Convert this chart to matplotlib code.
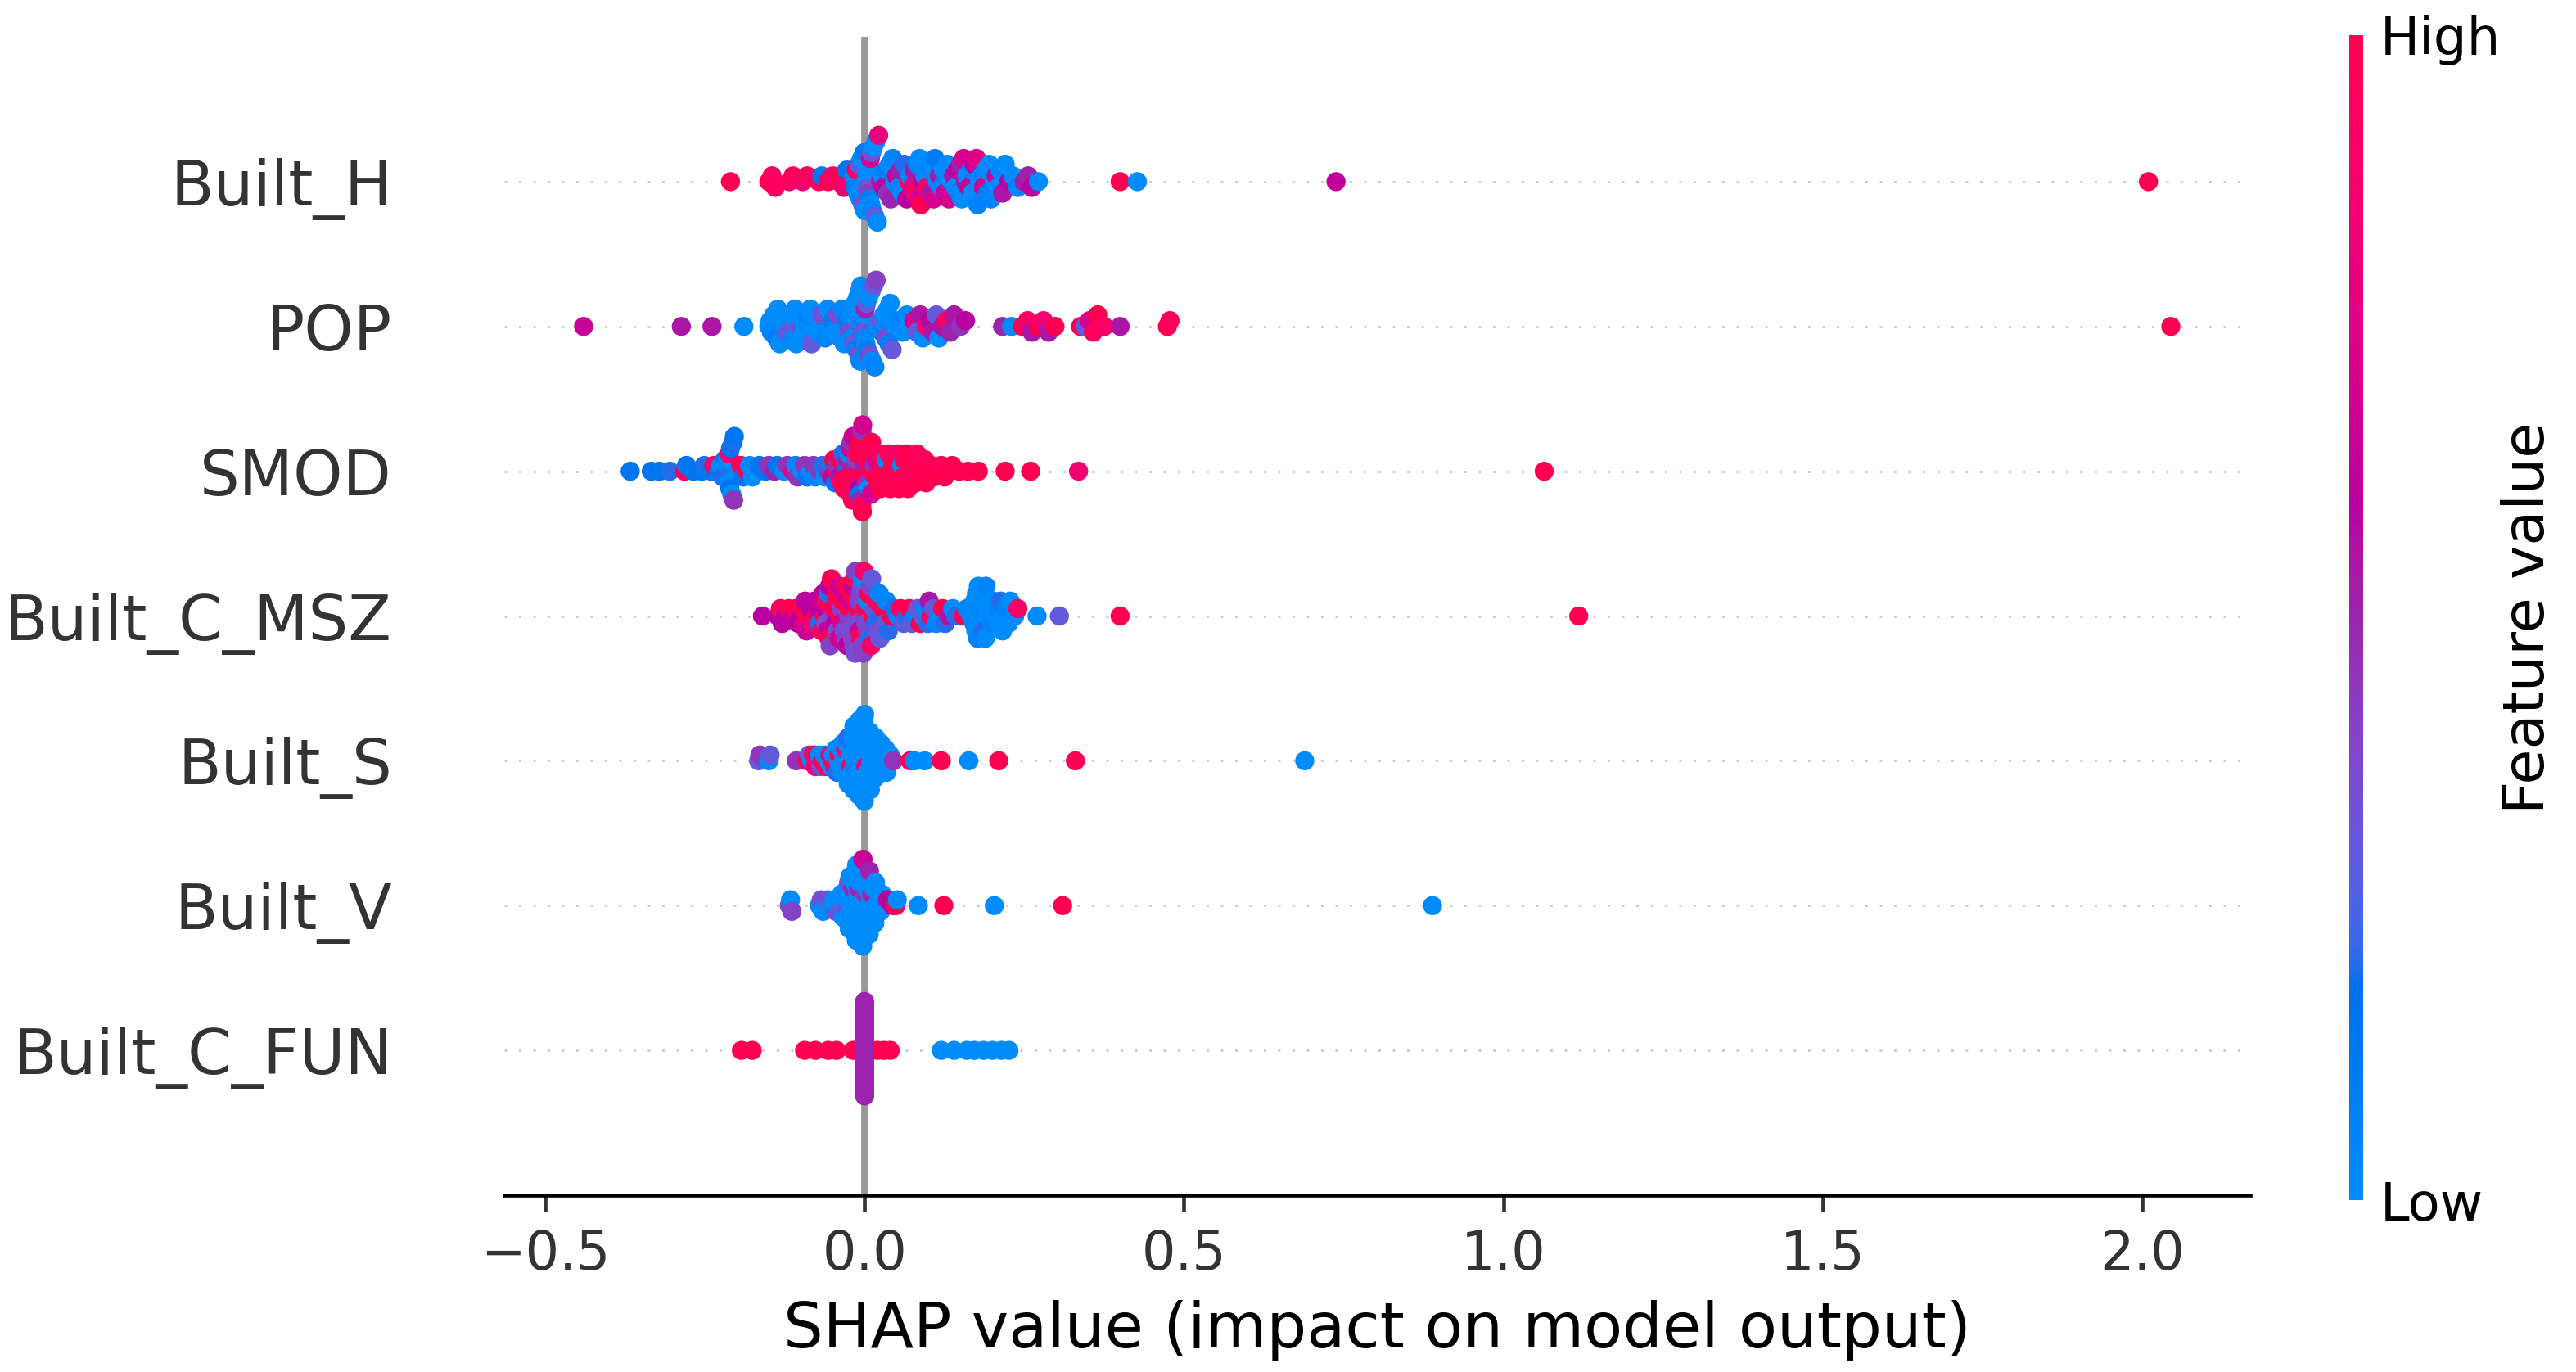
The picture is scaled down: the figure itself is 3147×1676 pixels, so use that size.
import numpy as np
import matplotlib
matplotlib.use("Agg")
import matplotlib.pyplot as plt
from matplotlib.colors import LinearSegmentedColormap

# feature names, bottom row first
features = ["Built_C_FUN", "Built_V", "Built_S", "Built_C_MSZ", "SMOD", "POP", "Built_H"]

# SHAP values and feature values (0 = low, 1 = high)
built_h_shap = [-0.210,
    -0.150, -0.145, -0.140, -0.118, -0.112, -0.097, -0.090,
    -0.072, -0.067, -0.057, -0.050,
    -0.040, -0.036, -0.032, -0.028,
    -0.019, -0.017, -0.015, -0.013, -0.011, -0.009, -0.007, -0.005, -0.003, -0.001, 0.000,
    0.002, 0.003, 0.004, 0.005, 0.006, 0.007, 0.008, 0.009, 0.010, 0.011, 0.012, 0.014, 0.016, 0.018, 0.020, 0.022,
    0.025, 0.028, 0.030, 0.033, 0.036, 0.039, 0.041, 0.044,
    0.047, 0.050, 0.053, 0.056, 0.059, 0.062, 0.066,
    0.069, 0.071, 0.074, 0.077, 0.079, 0.082, 0.084, 0.086, 0.088,
    0.091, 0.094, 0.097, 0.100, 0.103, 0.106, 0.108, 0.110,
    0.114, 0.117, 0.120, 0.123, 0.126, 0.129, 0.132,
    0.136, 0.139, 0.142, 0.145, 0.148, 0.150, 0.152, 0.155,
    0.158, 0.160, 0.163, 0.166, 0.168, 0.171, 0.173, 0.175, 0.177,
    0.180, 0.183, 0.186, 0.189, 0.192, 0.195, 0.198,
    0.203, 0.206, 0.209, 0.212, 0.216, 0.220,
    0.226, 0.232, 0.240,
    0.250, 0.256, 0.262, 0.272,
    0.400, 0.427, 0.738, 2.010]
built_h_feat = [1.0,
    1.0, 0.92, 0.95, 0.9, 0.95, 0.85, 0.92,
    0.95, 0.15, 1.0, 0.9,
    0.95, 1.0, 0.85, 0.15,
    0.85, 0.0, 0.1, 0.9, 0.0, 0.3, 0.05, 0.0, 0.35, 0.1, 0.0,
    0.0, 0.05, 0.3, 0.0, 0.4, 0.0, 0.1, 0.7, 0.0, 0.35, 0.05, 0.0, 0.3, 0.0, 0.0, 0.8,
    0.55, 0.0, 0.6, 0.1, 0.45, 0.0, 0.5, 0.05,
    0.0, 0.65, 0.05, 0.5, 0.0, 0.2, 0.6,
    1.0, 0.0, 0.8, 0.55, 0.95, 0.05, 0.7, 0.0, 1.0,
    0.6, 0.0, 0.9, 0.05, 0.55, 0.0, 0.7, 0.1,
    0.0, 0.55, 0.05, 0.0, 0.65, 0.0, 0.7,
    0.0, 0.55, 0.0, 0.6, 0.05, 0.5, 0.0, 0.7,
    0.55, 0.0, 0.65, 0.05, 0.0, 0.6, 0.0, 0.75, 0.05,
    0.0, 0.05, 0.7, 0.0, 0.1, 0.0, 0.05,
    0.0, 0.65, 0.0, 0.05, 0.55, 0.0,
    0.6, 0.0, 0.05,
    0.55, 0.5, 0.6, 0.0,
    1.0, 0.0, 0.62, 1.0]

pop_shap = [-0.440, -0.287, -0.239, -0.189,
    -0.150, -0.148, -0.146, -0.142, -0.138, -0.136, -0.133,
    -0.125, -0.122, -0.120, -0.115, -0.111, -0.109, -0.107,
    -0.101, -0.098, -0.096, -0.091, -0.087, -0.085, -0.083,
    -0.077, -0.074, -0.072, -0.067, -0.062, -0.058,
    -0.053, -0.050, -0.046, -0.042, -0.038, -0.035, -0.032,
    -0.029, -0.027, -0.025, -0.023, -0.021, -0.019, -0.017, -0.015, -0.013, -0.011, -0.009, -0.008, -0.007, -0.006,
    -0.004, -0.003, -0.002, -0.001, 0.000, 0.001, 0.002, 0.003, 0.004, 0.006, 0.008, 0.010, 0.012, 0.014, 0.016, 0.018,
    0.021, 0.024, 0.027, 0.030, 0.033, 0.036, 0.038, 0.040, 0.043,
    0.048, 0.054, 0.060, 0.066,
    0.072, 0.077, 0.082, 0.087, 0.091,
    0.097, 0.102, 0.107, 0.112, 0.116,
    0.122, 0.128, 0.134, 0.140,
    0.150, 0.158, 0.216, 0.230,
    0.247, 0.255, 0.262, 0.272, 0.280, 0.288, 0.298,
    0.338, 0.345, 0.352, 0.358, 0.365, 0.375,
    0.400, 0.474, 0.478, 2.045]
pop_feat = [0.65, 0.55, 0.55, 0.0,
    0.0, 0.0, 0.05, 0.0, 0.1, 0.0, 0.0,
    0.0, 0.0, 0.3, 0.0, 0.05, 0.0, 0.0,
    0.4, 0.0, 0.0, 0.05, 0.0, 0.0, 0.3,
    0.0, 0.0, 0.0, 0.35, 0.05, 0.0,
    0.0, 0.1, 0.0, 0.35, 0.0, 0.05, 0.0,
    0.0, 0.1, 0.35, 0.0, 0.05, 0.0, 0.3, 0.0, 0.1, 0.0, 0.35, 0.0, 0.05, 0.0,
    0.0, 0.1, 0.35, 0.0, 0.05, 0.5, 0.0, 0.3, 0.1, 0.0, 0.35, 0.0, 0.0, 0.3, 0.05, 0.4,
    0.0, 0.3, 0.05, 0.0, 0.35, 0.0, 0.1, 0.0, 0.3,
    0.0, 0.05, 0.0, 0.0,
    0.0, 0.7, 0.3, 0.55, 0.0,
    0.9, 0.6, 0.55, 0.3, 0.0,
    0.55, 0.9, 0.5, 0.55,
    0.45, 0.6, 0.5, 0.0,
    1.0, 0.9, 0.55, 1.0, 0.85, 0.55, 1.0,
    1.0, 0.3, 0.7, 0.95, 1.0, 0.9,
    0.55, 1.0, 0.95, 1.0]

smod_shap = [-0.367, -0.334, -0.321, -0.305,
    -0.282, -0.279, -0.268, -0.255, -0.251,
    -0.240, -0.236, -0.228, -0.225, -0.222, -0.219,
    -0.216, -0.2155, -0.215, -0.214, -0.213, -0.212, -0.211, -0.210, -0.208, -0.206, -0.205, -0.204,
    -0.198, -0.194, -0.190, -0.184, -0.180, -0.176,
    -0.168, -0.165, -0.155, -0.150, -0.141, -0.137, -0.126, -0.121,
    -0.112, -0.108, -0.105, -0.098, -0.094, -0.090,
    -0.084, -0.080, -0.077, -0.070, -0.066, -0.062,
    -0.057, -0.054, -0.051, -0.048, -0.046,
    -0.044, -0.042, -0.040, -0.038, -0.036, -0.034, -0.032,
    -0.030, -0.029, -0.028, -0.027, -0.026, -0.025, -0.024, -0.023, -0.022, -0.021, -0.019, -0.018,
    -0.016, -0.015, -0.014, -0.013, -0.012, -0.011, -0.010, -0.009, -0.008, -0.007, -0.006, -0.005,
    -0.0045, -0.004, -0.0035, -0.003,
    -0.001, 0.000, 0.001, 0.002, 0.004, 0.005, 0.007, 0.008, 0.010, 0.011,
    0.013, 0.015, 0.017, 0.019, 0.021, 0.023, 0.025,
    0.028, 0.030, 0.032, 0.034, 0.036, 0.038, 0.040,
    0.042, 0.044, 0.046, 0.048, 0.050, 0.052, 0.054,
    0.056, 0.058, 0.060, 0.062, 0.064, 0.066, 0.068,
    0.071, 0.073, 0.075, 0.077, 0.080, 0.082,
    0.086, 0.089, 0.092, 0.094, 0.096,
    0.100, 0.104, 0.108, 0.115, 0.120, 0.125,
    0.132, 0.137, 0.148, 0.162, 0.178,
    0.220, 0.260, 0.335, 1.064]
smod_feat = [0.15, 0.15, 0.15, 0.2,
    0.95, 0.15, 0.15, 0.15, 0.2,
    0.15, 0.9, 0.15, 0.0, 0.2, 0.15,
    0.15, 0.0, 0.2, 0.0, 0.0, 0.9, 0.15, 0.15, 0.0, 0.2, 0.45, 0.15,
    0.0, 0.95, 0.15, 0.95, 0.0, 0.0,
    0.0, 0.15, 0.15, 0.45, 0.5, 0.15, 0.0, 0.45,
    0.75, 0.05, 0.45, 0.0, 0.45, 0.15,
    0.0, 0.45, 0.05, 0.45, 0.2, 0.0,
    0.45, 0.2, 0.65, 1.0, 0.15,
    1.0, 0.45, 0.55, 1.0, 0.95, 0.2, 1.0,
    1.0, 0.15, 1.0, 0.5, 1.0, 0.0, 1.0, 0.7, 1.0, 0.45, 0.95, 0.65,
    1.0, 0.5, 1.0, 0.4, 0.95, 1.0, 0.6, 1.0, 0.15, 1.0, 0.5, 1.0,
    0.95, 0.45, 1.0, 0.7,
    1.0, 0.5, 1.0, 0.95, 0.45, 1.0, 0.0, 1.0, 0.7, 1.0,
    1.0, 0.45, 1.0, 0.7, 1.0, 0.95, 1.0,
    1.0, 0.9, 1.0, 0.0, 1.0, 0.95, 1.0,
    1.0, 1.0, 0.95, 1.0, 1.0, 0.9, 1.0,
    1.0, 0.0, 1.0, 1.0, 0.95, 1.0, 1.0,
    1.0, 1.0, 0.9, 1.0, 1.0, 0.95,
    1.0, 1.0, 1.0, 0.95, 1.0,
    1.0, 1.0, 1.0, 1.0, 0.95, 1.0,
    1.0, 1.0, 1.0, 1.0, 1.0,
    1.0, 1.0, 0.85, 1.0]

msz_shap = [-0.160,
    -0.136, -0.132, -0.129, -0.124, -0.119,
    -0.112, -0.108, -0.104,
    -0.100, -0.097, -0.095, -0.093, -0.091,
    -0.088, -0.085, -0.082, -0.079,
    -0.075, -0.073, -0.071, -0.069, -0.067, -0.065,
    -0.063, -0.062, -0.061, -0.060, -0.059, -0.057, -0.056, -0.055, -0.054, -0.052,
    -0.050, -0.048, -0.046, -0.045, -0.043, -0.042, -0.040, -0.039,
    -0.038, -0.036, -0.035, -0.034, -0.032, -0.031, -0.029, -0.028, -0.027,
    -0.025, -0.024, -0.023, -0.022, -0.021, -0.020, -0.019, -0.018, -0.017, -0.016, -0.015, -0.014,
    -0.012, -0.011, -0.010, -0.009, -0.008, -0.007, -0.006, -0.005, -0.004, -0.003, -0.002, -0.001,
    0.000, 0.001, 0.002, 0.004, 0.005, 0.006, 0.008, 0.009, 0.010, 0.011,
    0.013, 0.015, 0.017, 0.019, 0.021, 0.023, 0.024,
    0.026, 0.029, 0.032, 0.034, 0.037,
    0.042, 0.046, 0.052, 0.056, 0.061, 0.066, 0.070, 0.074,
    0.079, 0.083, 0.087, 0.091, 0.095, 0.099, 0.101,
    0.104, 0.108, 0.112, 0.118, 0.122, 0.126,
    0.132, 0.138, 0.143, 0.155, 0.160,
    0.167, 0.169, 0.171, 0.172, 0.174, 0.175, 0.177, 0.178,
    0.180, 0.181, 0.183, 0.184, 0.186, 0.187, 0.189, 0.190,
    0.193, 0.196, 0.199, 0.202,
    0.206, 0.209, 0.211, 0.213, 0.216,
    0.219, 0.222, 0.225, 0.228, 0.235, 0.240,
    0.270, 0.305, 0.400, 1.118]
msz_feat = [0.6,
    0.6, 0.95, 0.6, 0.6, 1.0,
    0.65, 1.0, 0.6,
    0.6, 1.0, 0.8, 0.6, 0.65,
    1.0, 0.6, 0.85, 0.6,
    1.0, 0.6, 0.2, 0.65, 1.0, 0.6,
    1.0, 0.6, 0.35, 1.0, 0.65, 0.2, 1.0, 0.6, 0.4, 1.0,
    0.4, 1.0, 0.6, 0.9, 0.35, 1.0, 0.65, 0.7,
    1.0, 0.4, 0.7, 1.0, 0.35, 0.65, 0.4, 1.0, 0.6,
    0.4, 1.0, 0.4, 0.7, 0.35, 1.0, 0.4, 0.65, 0.4, 1.0, 0.35, 0.4,
    0.4, 1.0, 0.35, 0.4, 0.7, 0.4, 1.0, 0.35, 0.4, 0.0, 0.4, 0.9,
    0.4, 1.0, 0.35, 0.0, 0.4, 1.0, 0.2, 0.4, 0.9, 0.3,
    1.0, 0.3, 0.2, 0.9, 0.35, 0.05, 0.3,
    0.2, 1.0, 0.3, 0.05, 0.2,
    1.0, 0.2, 0.05, 0.95, 0.3, 0.2, 1.0, 0.3,
    0.05, 0.3, 1.0, 0.3, 0.05, 0.2, 0.55,
    1.0, 0.3, 0.05, 0.0, 1.0, 0.2,
    0.55, 0.0, 0.2, 1.0, 0.05,
    0.0, 0.0, 0.05, 0.0, 0.0, 0.0, 0.05, 0.0,
    0.0, 0.05, 0.0, 0.0, 0.2, 0.0, 0.0, 0.05,
    0.0, 0.0, 0.05, 0.0,
    0.0, 0.05, 0.0, 0.2, 0.0,
    0.0, 0.05, 0.0, 0.0, 0.0, 0.9,
    0.0, 0.3, 1.0, 1.0]

built_s_shap = [-0.166, -0.164, -0.150, -0.148, -0.107,
    -0.090, -0.087, -0.083, -0.080, -0.077, -0.074, -0.071, -0.068,
    -0.066, -0.063, -0.060, -0.057, -0.054, -0.052, -0.050,
    -0.049, -0.047, -0.045, -0.043,
    -0.041, -0.040, -0.038, -0.037, -0.035, -0.034,
    -0.033, -0.032, -0.031, -0.030, -0.029, -0.028, -0.027, -0.026, -0.0255,
    -0.024, -0.023, -0.022, -0.021, -0.020, -0.0195, -0.019, -0.0185, -0.018, -0.0175, -0.017, -0.0168,
    -0.016, -0.0155, -0.015, -0.0145, -0.014, -0.0135, -0.013, -0.0125, -0.012, -0.011, -0.010, -0.009, -0.0085, -0.008,
    -0.0075, -0.007, -0.0065, -0.006, -0.0055, -0.005, -0.0045, -0.004,
    -0.0035, -0.003, -0.0025, -0.002, -0.0015, -0.001, -0.0005, 0.000,
    0.001, 0.0015, 0.002, 0.003, 0.004, 0.005, 0.006, 0.007, 0.0075, 0.008, 0.009,
    0.010, 0.011, 0.012, 0.013, 0.014, 0.015, 0.016, 0.017,
    0.018, 0.0195, 0.021, 0.0225, 0.024, 0.0255,
    0.027, 0.029, 0.031, 0.033, 0.034, 0.037, 0.040,
    0.045, 0.071, 0.078, 0.094, 0.120, 0.163, 0.210, 0.330, 0.689]
built_s_feat = [0.3, 0.45, 0.0, 0.3, 0.45,
    1.0, 0.35, 0.0, 1.0, 0.8, 0.9, 0.0, 0.35,
    1.0, 0.0, 0.95, 0.0, 0.8, 0.0, 1.0,
    0.0, 0.9, 0.0, 0.2,
    0.0, 1.0, 0.0, 0.0, 0.0, 0.0,
    0.0, 0.0, 0.0, 0.9, 0.0, 0.0, 0.0, 0.2, 0.0,
    0.0, 0.0, 0.9, 0.0, 0.0, 0.2, 0.0, 0.0, 0.0, 0.0, 0.0, 0.0,
    0.0, 0.0, 0.0, 0.0, 0.1, 0.0, 0.0, 0.0, 0.0, 0.0, 0.0, 0.0, 0.0, 0.0,
    0.0, 0.0, 0.0, 0.0, 0.0, 0.0, 0.0, 0.0,
    0.0, 0.0, 0.0, 0.0, 0.0, 0.0, 0.0, 0.0,
    0.0, 0.0, 0.85, 0.0, 0.0, 0.0, 0.0, 0.0, 0.0, 0.0, 0.0,
    0.0, 0.0, 0.0, 0.0, 0.0, 0.0, 0.0, 0.0,
    0.0, 0.0, 0.0, 0.0, 0.0, 0.0,
    0.0, 0.0, 0.0, 0.0, 0.0, 0.0, 0.0,
    0.45, 1.0, 0.0, 0.0, 1.0, 0.0, 1.0, 1.0, 0.0]

built_v_shap = [-0.118, -0.116, -0.114,
    -0.071, -0.068, -0.065, -0.061, -0.058,
    -0.051, -0.048, -0.045,
    -0.042, -0.040, -0.038, -0.036, -0.034,
    -0.032, -0.031, -0.030, -0.029, -0.028, -0.027, -0.026, -0.025, -0.024, -0.023,
    -0.022, -0.021, -0.0205, -0.020, -0.019, -0.018, -0.0175, -0.017, -0.016, -0.015, -0.0145, -0.014, -0.013, -0.0125,
    -0.012, -0.0115, -0.011, -0.0105, -0.010, -0.0095, -0.009, -0.008,
    -0.007, -0.006, -0.005, -0.0045, -0.004, -0.0035, -0.003, -0.0025,
    -0.002, -0.001, 0.000, 0.001, 0.002, 0.003, 0.004, 0.005, 0.0055, 0.006, 0.007, 0.0075,
    0.008, 0.009, 0.010, 0.011, 0.012, 0.014, 0.016, 0.017,
    0.019, 0.022, 0.025, 0.027, 0.031, 0.036,
    0.044, 0.049, 0.051, 0.084, 0.124, 0.203, 0.310, 0.889]
built_v_feat = [0.35, 0.0, 0.4,
    0.0, 0.35, 0.0, 0.0, 0.35,
    0.0, 0.0, 0.35,
    0.0, 0.0, 0.3, 0.0, 0.0,
    0.0, 0.0, 0.35, 0.0, 0.0, 0.0, 0.0, 0.3, 0.0, 0.0,
    0.0, 0.0, 0.0, 0.0, 0.0, 0.5, 0.0, 0.0, 0.0, 0.0, 0.0, 0.0, 0.0, 0.0,
    0.0, 0.0, 0.0, 0.0, 0.0, 0.5, 0.0, 0.0,
    0.0, 0.0, 0.0, 0.0, 0.0, 0.0, 0.0, 0.65,
    0.0, 0.0, 0.0, 0.45, 0.0, 0.0, 0.0, 0.0, 0.0, 0.0, 0.0, 0.5,
    0.0, 0.0, 0.0, 0.5, 0.0, 0.0, 0.0, 0.0,
    0.0, 0.0, 0.0, 0.0, 0.0, 0.6,
    0.6, 1.0, 0.0, 0.0, 1.0, 0.0, 1.0, 0.0]

fun_shap = [-0.193, -0.176, -0.094, -0.077, -0.057, -0.044, -0.018, -0.008, 0.020, 0.030, 0.040,
    0.0, 0.0, 0.0, 0.0, 0.0, 0.0, 0.0, 0.0, 0.0, 0.0,
    0.0, 0.0, 0.0, 0.0, 0.0, 0.0, 0.0, 0.0, 0.0, 0.0,
    0.0, 0.0, 0.0, 0.0, 0.0, 0.0, 0.0, 0.0, 0.0, 0.0,
    0.120, 0.140, 0.160, 0.172, 0.186, 0.200, 0.214, 0.226]
fun_feat = [1.0, 1.0, 1.0, 1.0, 1.0, 1.0, 1.0, 1.0, 1.0, 1.0, 1.0,
    0.5, 0.5, 0.5, 0.5, 0.5, 0.5, 0.5, 0.5, 0.5, 0.5,
    0.5, 0.5, 0.5, 0.5, 0.5, 0.5, 0.5, 0.5, 0.5, 0.5,
    0.5, 0.5, 0.5, 0.5, 0.5, 0.5, 0.5, 0.5, 0.5, 0.5,
    0.0, 0.0, 0.0, 0.0, 0.0, 0.0, 0.0, 0.0]

shap_rows = [fun_shap, built_v_shap, built_s_shap, msz_shap, smod_shap, pop_shap, built_h_shap]
feat_rows = [fun_feat, built_v_feat, built_s_feat, msz_feat, smod_feat, pop_feat, built_h_feat]


def lch2rgb(l, c, h):
    """CIE LCh (D65) -> sRGB"""
    a, b = c * np.cos(h), c * np.sin(h)
    fy = (l + 16.) / 116.
    f = np.array([a / 500. + fy, fy, max(fy - b / 200., 0.)])
    mask = f > 0.2068966
    f[mask] = f[mask] ** 3
    f[~mask] = (f[~mask] - 16. / 116.) / 7.787
    xyz = f * np.array([0.95047, 1., 1.08883])
    m = np.array([[3.24048134, -1.53715152, -0.49853633],
                  [-0.96925495, 1.87599, 0.04155593],
                  [0.05564664, -0.20404134, 1.05731107]])
    rgb = m @ xyz
    mk = rgb > 0.0031308
    rgb[mk] = 1.055 * rgb[mk] ** (1 / 2.4) - 0.055
    rgb[~mk] *= 12.92
    return np.clip(rgb, 0, 1)


def red_blue_cmap():
    # shap style red_blue map: interpolate in LCh from blue to red through a darker middle
    blue_lch = [54., 70., 4.6588]
    red_lch = [54., 90., 0.35470565 + 2 * np.pi]
    nsteps = 100
    l_vals = list(np.linspace(blue_lch[0], 40., nsteps // 2)) + list(np.linspace(40., red_lch[0], nsteps // 2))
    c_vals = np.linspace(blue_lch[1], red_lch[1], nsteps)
    h_vals = np.linspace(blue_lch[2], red_lch[2], nsteps)
    cols = [lch2rgb(l, c, h) for l, c, h in zip(l_vals, c_vals, h_vals)]
    return LinearSegmentedColormap.from_list("red_blue", list(zip(np.linspace(0, 1, nsteps), cols)))


def swarm_offsets(vals, nbins=100, row_height=0.4):
    """vertical jitter like the shap beeswarm: stack points falling in the same bin"""
    vals = np.asarray(vals, dtype=float)
    quant = np.round(nbins * (vals - vals.min()) / (vals.max() - vals.min() + 1e-8))
    inds = np.argsort(quant, kind="stable")
    layer, last_bin = 0, -1
    ys = np.zeros(len(vals))
    for ind in inds:
        if quant[ind] != last_bin:
            layer = 0
        ys[ind] = np.ceil(layer / 2) * ((layer % 2) * 2 - 1)
        layer += 1
        last_bin = quant[ind]
    ys *= 0.9 * (row_height / np.max(ys + 1))
    return ys


cmap = red_blue_cmap()
axis_color = "#333333"

fig = plt.figure(figsize=(3147 / 420, 1676 / 420), dpi=420)
ax = fig.add_axes([616 / 3147, 1 - 1460 / 1676, (2749 - 616) / 3147, (1460 - 45) / 1676])

ax.axvline(x=0, color="#999999", zorder=-1)
for pos in range(len(features)):
    ax.axhline(y=pos, color="#cccccc", lw=0.5, dashes=(1, 5), zorder=-1)
    shaps = np.array(shap_rows[pos])
    vals = np.array(feat_rows[pos])
    assert len(shaps) == len(vals), features[pos]
    ys = swarm_offsets(shaps)
    ax.scatter(shaps, pos + ys, c=vals, cmap=cmap, vmin=0, vmax=1, s=16,
               linewidth=0, zorder=3)

ax.xaxis.set_ticks_position("bottom")
ax.yaxis.set_ticks_position("none")
for side in ["right", "top", "left"]:
    ax.spines[side].set_visible(False)
ax.tick_params(color=axis_color, labelcolor=axis_color)
ax.set_yticks(range(len(features)))
ax.set_yticklabels(features, fontsize=13.2)
ax.tick_params("y", length=20, width=0.5, which="major")
ax.tick_params("x", labelsize=11.2)
ax.set_ylim(-1, len(features))
ax.set_xlabel("SHAP value (impact on model output)", fontsize=13.2)

# colour bar
sm = plt.cm.ScalarMappable(cmap=cmap, norm=plt.Normalize(0, 1))
cax = fig.add_axes([2870 / 3147, 1 - 1466 / 1676, 17 / 3147, (1466 - 43) / 1676])
cb = fig.colorbar(sm, cax=cax, ticks=[0, 1])
cb.set_ticklabels(["Low", "High"])
cb.ax.tick_params(labelsize=11, length=0)
cb.set_label("Feature value", size=12, labelpad=0)
cb.outline.set_visible(False)

fig.savefig("out.png", dpi=420)
